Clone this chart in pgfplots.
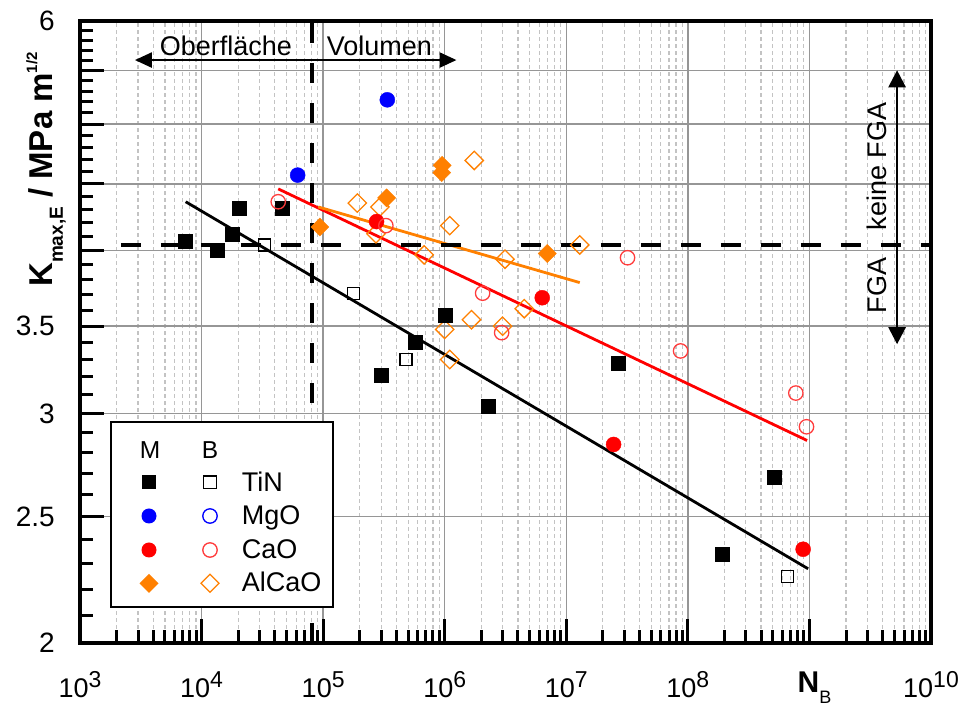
\documentclass[border=0pt]{standalone}
\usepackage{pgfplots}
\pgfplotsset{compat=1.18}
\usepackage{fontspec}
\setmainfont{Liberation Sans}
\usetikzlibrary{arrows.meta,calc}

\definecolor{myorange}{RGB}{255,128,0}
\definecolor{myred}{RGB}{255,0,0}
\definecolor{lightred}{RGB}{255,60,60}
\definecolor{myblue}{RGB}{0,0,255}
\definecolor{gridmaj}{RGB}{150,150,150}
\definecolor{gridmin}{RGB}{195,195,195}

\newcommand{\sps}[1]{\raisebox{10pt}{\fontsize{23}{23}\selectfont #1}}

\begin{document}
\begin{tikzpicture}
\begin{axis}[
  scale only axis, width=851pt, height=622pt,
  xmode=log, ymode=log,
  xmin=1e3, xmax=1e10, ymin=2, ymax=6,
  xtick={1e3,1e4,1e5,1e6,1e7,1e8,1e9,1e10},
  xticklabels={10\sps{3},10\sps{4},10\sps{5},10\sps{6},10\sps{7},10\sps{8},{\hspace*{10pt}{\fontsize{30}{30}\selectfont\bfseries N}\raisebox{-11pt}{\fontsize{18}{18}\selectfont B}},10\sps{10}},
  minor xtick={2e3,3e3,4e3,5e3,6e3,7e3,8e3,9e3,
               2e4,3e4,4e4,5e4,6e4,7e4,8e4,9e4,
               2e5,3e5,4e5,5e5,6e5,7e5,8e5,9e5,
               2e6,3e6,4e6,5e6,6e6,7e6,8e6,9e6,
               2e7,3e7,4e7,5e7,6e7,7e7,8e7,9e7,
               2e8,3e8,4e8,5e8,6e8,7e8,8e8,9e8,
               2e9,3e9,4e9,5e9,6e9,7e9,8e9,9e9},
  ytick={2,2.5,3,3.5,4,4.5,5,5.5,6},
  yticklabels={2,2.5,3,3.5,,,,,6},
  minor ytick={2.1,2.2,2.3,2.4,2.6,2.7,2.8,2.9,3.1,3.2,3.3,3.4,3.6,3.7,3.8,3.9,
               4.1,4.2,4.3,4.4,4.6,4.7,4.8,4.9,5.1,5.2,5.3,5.4,5.6,5.7,5.8,5.9},
  tick align=inside, tick pos=left,
  major tick length=24pt, minor tick length=13pt,
  tick style={black, line width=3pt},
  axis line style={line width=3.5pt},
  xmajorgrids=true, ymajorgrids=true, xminorgrids=true, yminorgrids=false,
  major grid style={gridmaj, line width=1.5pt, solid},
  minor grid style={gridmin, line width=1.2pt, dash pattern=on 4pt off 3pt},
  xticklabel style={font=\fontsize{27}{29}\selectfont, anchor=north, inner sep=0pt, yshift=-28.7pt},
  yticklabel style={font=\fontsize{28}{30}\selectfont, anchor=east, inner sep=0pt, xshift=-25pt},
]
\coordinate (O) at (rel axis cs:0,0);

% AlCaO B
\addplot[only marks, mark=square, mark size=6.5pt, myorange, mark options={rotate=45, fill=white, line width=1.3pt}]
 coordinates {(1.91e5,4.35) (2.93e5,4.32) (1.10e6,4.18) (1.75e6,4.69) (6.78e5,3.97) (2.72e5,4.12)
              (3.13e6,3.94) (1.29e7,4.04) (4.51e6,3.61) (1.66e6,3.54) (1.0e6,3.48) (2.99e6,3.50) (1.10e6,3.30)};
% AlCaO M
\addplot[only marks, mark=square*, mark size=6.4pt, myorange, mark options={rotate=45}]
 coordinates {(9.4e4,4.17) (3.33e5,4.39) (9.53e5,4.65) (9.45e5,4.59) (6.97e6,3.98)};
% TiN B
\addplot[only marks, mark=square, mark size=6pt, black, mark options={fill=white, line width=1.3pt}]
 coordinates {(3.28e4,4.04) (1.77e5,3.71) (4.80e5,3.30) (6.64e8,2.25)};
% TiN M
\addplot[only marks, mark=square*, mark size=7pt, black]
 coordinates {(7.3e3,4.07) (1.35e4,4.00) (1.80e4,4.12) (2.03e4,4.31) (4.61e4,4.31) (3.03e5,3.21)
              (5.77e5,3.40) (1.01e6,3.57) (2.28e6,3.04) (2.67e7,3.28) (1.91e8,2.34) (5.16e8,2.68)};
% MgO M
\addplot[only marks, mark=*, mark size=7.5pt, myblue]
 coordinates {(6.17e4,4.57) (3.37e5,5.22)};
% CaO M
\addplot[only marks, mark=*, mark size=7.5pt, myred]
 coordinates {(2.75e5,4.21) (6.34e6,3.68) (2.45e7,2.84) (8.87e8,2.36)};
% CaO B
\addplot[only marks, mark=o, mark size=7.2pt, lightred, mark options={fill=white, line width=1.3pt}]
 coordinates {(4.27e4,4.36) (3.28e5,4.18) (2.05e6,3.71) (2.94e6,3.46) (3.19e7,3.95) (8.71e7,3.35) (7.73e8,3.11) (9.46e8,2.93)};

% fit lines
\addplot[black, line width=2.8pt, no marks] coordinates {(7.4e3,4.36) (9.75e8,2.28)};
\addplot[myred, line width=2.8pt, no marks] coordinates {(4.27e4,4.46) (9.57e8,2.86)};
\addplot[myorange, line width=2.8pt, no marks] coordinates {(9.12e4,4.32) (1.29e7,3.78)};

% dashed boundaries
\addplot[black, line width=4.5pt, dash pattern=on 20pt off 20pt, no marks] coordinates {(2.17e3,4.04) (1e10,4.04)};
\addplot[black, line width=4.5pt, dash pattern=on 20pt off 20pt, no marks] coordinates {(8.1e4,2) (8.1e4,6)};

% annotations
\draw[{Triangle[length=17pt,width=15pt]}-{Triangle[length=17pt,width=15pt]}, line width=2.5pt]
  (axis cs:2.83e3,5.6) -- (axis cs:1.25e6,5.6);
\draw[{Triangle[length=17pt,width=17pt]}-{Triangle[length=17pt,width=17pt]}, line width=2.5pt]
  (axis cs:5.26e9,5.5) -- (axis cs:5.26e9,3.39);
\node[anchor=base, inner sep=0pt, font=\fontsize{27}{29}\selectfont] at (axis cs:1.587e4,5.65) {Oberfläche};
\node[anchor=base, inner sep=0pt, font=\fontsize{27}{29}\selectfont] at (axis cs:2.90e5,5.65) {Volumen};
\node[rotate=90, anchor=base, inner sep=0pt, font=\fontsize{27}{29}\selectfont] at (axis cs:4.33e9,4.64) {keine FGA};
\node[rotate=90, anchor=base, inner sep=0pt, font=\fontsize{27}{29}\selectfont] at (axis cs:4.33e9,3.76) {FGA};
\end{axis}

% y label
\node[rotate=90, anchor=base west, inner sep=0pt, font=\fontsize{33}{35}\selectfont\bfseries]
  at ($(O)+(-27pt,356pt)$) {K\raisebox{-10pt}{\fontsize{19}{19}\selectfont\bfseries max,E} / MPa m\raisebox{16pt}{\fontsize{15}{15}\selectfont\bfseries 1/2}};

% legend
\begin{scope}[shift={(O)}]
\draw[line width=1.5pt, fill=white] (31pt,36pt) rectangle (253pt,221pt);
\node[font=\fontsize{24.5}{26}\selectfont, anchor=base, inner sep=0pt] at (70pt,184.7pt) {M};
\node[font=\fontsize{24.5}{26}\selectfont, anchor=base, inner sep=0pt] at (130pt,184.7pt) {B};
\fill[black] (62.2pt,153.9pt) rectangle (75.8pt,167.5pt);
\draw[black, line width=1.3pt] (123.6pt,154.3pt) rectangle (136.4pt,167.1pt);
\fill[myblue] (69pt,127pt) circle (7.5pt);
\draw[myblue, line width=1.3pt] (130pt,127pt) circle (7.2pt);
\fill[myred] (69pt,93pt) circle (7.5pt);
\draw[lightred, line width=1.3pt] (130pt,93pt) circle (7.2pt);
\fill[myorange] (69pt,69.2pt) -- (78.5pt,59.7pt) -- (69pt,50.2pt) -- (59.5pt,59.7pt) -- cycle;
\draw[myorange, line width=1.3pt] (130pt,68.7pt) -- (139pt,59.7pt) -- (130pt,50.7pt) -- (121pt,59.7pt) -- cycle;
\node[font=\fontsize{27}{29}\selectfont, anchor=base west, inner sep=0pt] at (161.7pt,151.3pt) {TiN};
\node[font=\fontsize{27}{29}\selectfont, anchor=base west, inner sep=0pt] at (161.7pt,118pt) {MgO};
\node[font=\fontsize{27}{29}\selectfont, anchor=base west, inner sep=0pt] at (161.7pt,84.7pt) {CaO};
\node[font=\fontsize{27}{29}\selectfont, anchor=base west, inner sep=0pt] at (161.7pt,51.3pt) {AlCaO};
\end{scope}

\pgfresetboundingbox
\path[use as bounding box, shift={(O)}] (-80pt,-63pt) rectangle (881pt,643pt);
\end{tikzpicture}
\end{document}
